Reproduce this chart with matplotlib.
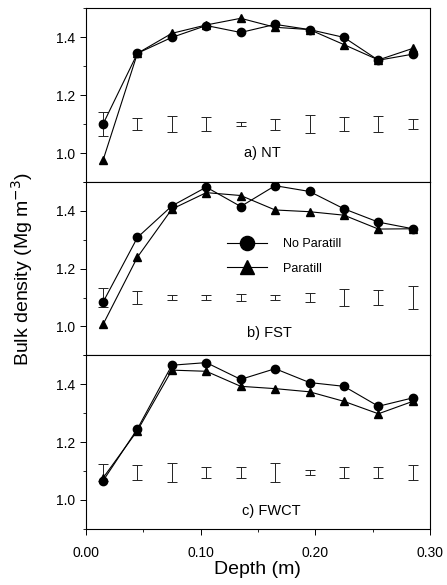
import numpy as np
import matplotlib.pyplot as plt
from matplotlib.ticker import MultipleLocator

plt.rcParams['font.family'] = ['Liberation Sans', 'DejaVu Sans']

depth = [0.015, 0.045, 0.075, 0.105, 0.135, 0.165, 0.195, 0.225, 0.255, 0.285]

nt_no = [1.100, 1.345, 1.400, 1.441, 1.417, 1.445, 1.427, 1.400, 1.321, 1.342]
nt_para = [0.975, 1.345, 1.414, 1.443, 1.466, 1.435, 1.427, 1.375, 1.322, 1.362]
nt_err = [0.042, 0.022, 0.028, 0.024, 0.006, 0.019, 0.030, 0.024, 0.028, 0.017]

fst_no = [1.084, 1.308, 1.417, 1.482, 1.415, 1.487, 1.467, 1.407, 1.361, 1.338]
fst_para = [1.007, 1.240, 1.406, 1.463, 1.453, 1.403, 1.397, 1.385, 1.337, 1.338]
fst_err = [0.032, 0.023, 0.010, 0.009, 0.013, 0.010, 0.016, 0.028, 0.026, 0.040]

fwct_no = [1.066, 1.246, 1.466, 1.475, 1.417, 1.454, 1.406, 1.393, 1.324, 1.353]
fwct_para = [1.076, 1.240, 1.449, 1.445, 1.393, 1.385, 1.374, 1.341, 1.298, 1.341]
fwct_err = [0.030, 0.026, 0.032, 0.020, 0.020, 0.032, 0.008, 0.019, 0.018, 0.025]

err_center = [1.10, 1.10, 1.095]
titles = ['a) NT', 'b) FST', 'c) FWCT']
title_pos = [(0.154, 1.0), (0.160, 0.978), (0.162, 0.963)]
xticks = [0.0, 0.10, 0.20, 0.30]
xticklabels = ['0.00', '0.10', '0.20', '0.30']

panels = [(nt_no, nt_para, nt_err), (fst_no, fst_para, fst_err), (fwct_no, fwct_para, fwct_err)]

fig = plt.figure(figsize=(4.47, 5.85), dpi=100)
left, width, h = 0.192, 0.770, 0.2965
bottoms = [0.689, 0.3925, 0.096]

axes = []
for i, (no, para, err) in enumerate(panels):
    ax = fig.add_axes([left, bottoms[i], width, h])
    axes.append(ax)
    ax.errorbar(depth, [err_center[i]] * len(depth), yerr=err, fmt='none',
                ecolor='#222222', elinewidth=0.7, capsize=3.5, capthick=0.7)
    l1, = ax.plot(depth, no, '-o', color='k', lw=0.8, ms=6, label='No Paratill')
    l2, = ax.plot(depth, para, '-^', color='k', lw=0.8, ms=6, label='Paratill')
    ax.set_xlim(0, 0.30)
    ax.set_ylim(0.9, 1.5)
    ax.set_yticks([1.0, 1.2, 1.4])
    ax.yaxis.set_minor_locator(MultipleLocator(0.1))
    ax.set_xticks(xticks)
    ax.xaxis.set_minor_locator(MultipleLocator(0.05))
    ax.tick_params(axis='both', which='major', labelsize=10, length=4, width=0.7)
    ax.tick_params(axis='both', which='minor', length=2.5, width=0.6)
    for s in ax.spines.values():
        s.set_linewidth(0.8)
    ax.text(title_pos[i][0], title_pos[i][1], titles[i], ha='center', va='center', fontsize=10.5)
    if i < 2:
        ax.tick_params(axis='x', which='both', labelbottom=False, length=0)
    else:
        ax.set_xticklabels(xticklabels)
        ax.tick_params(axis='x', which='major', pad=8)
        ax.set_xlabel('Depth (m)', fontsize=14, labelpad=1)
    if i == 1:
        ax.legend(handles=[l1, l2], loc='center left', bbox_to_anchor=(0.41, 0.57),
                  frameon=False, fontsize=9, handlelength=3.2, handletextpad=1.3,
                  markerscale=1.7, labelspacing=1.0, borderpad=0, borderaxespad=0)

fig.text(0.05, 0.54, 'Bulk density (Mg m$^{-3}$)', rotation=90, ha='center', va='center', fontsize=14)

fig.savefig('out.png', dpi=100)
